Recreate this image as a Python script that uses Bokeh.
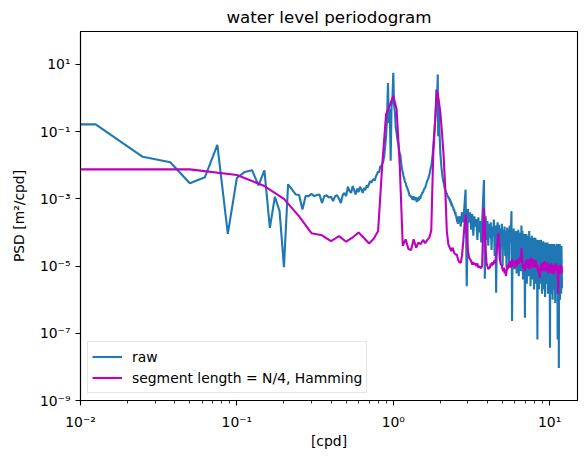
import numpy as np
from bokeh.plotting import figure
from bokeh.models import Range1d, FixedTicker, CustomJSTickFormatter
from bokeh.embed import file_html
from bokeh.resources import INLINE

# ---------------- data ----------------
# raw periodogram, fine grid 0.0125 cpd (0.0125 .. 2.6)
raw_df_lo = 0.0125
raw_psd_lo = [
    0.164, 0.0178, 0.0123, 0.0029, 0.0044, 0.040, 9.1e-5, 0.0042,
    0.0063, 0.0071, 0.0025, 0.0070, 1.37e-4, 0.00115, 4.3e-4, 9.3e-6,
    0.0027, 0.0019, 0.00135, 0.0013, 4.8e-4, 0.0012, 0.0012, 0.0014,
    0.0012, 0.0013, 0.00135, 7.5e-4, 0.0012, 0.00127, 0.0011, 0.00115,
    8.6e-4, 0.0012, 0.00127, 0.0010, 7.5e-4, 0.0013, 0.0015, 0.0012,
    0.0023, 0.0017, 0.0015, 0.0024, 0.0018, 0.00135, 0.0020, 0.0016,
    0.0023, 0.0019, 0.0015, 0.0021, 0.0018, 0.0025, 0.0022, 0.0028,
    0.0034, 0.0030, 0.0036, 0.0039, 0.0035, 0.0047, 0.0054, 0.0066,
    0.0060, 0.0091, 0.0093, 0.0110, 0.0126, 0.0187, 0.035, 0.073,
    0.25, 2.8, 0.18, 0.47, 0.0137, 0.57, 0.9, 5.6,
    0.6, 0.37, 0.13, 0.09, 0.06, 0.046, 0.03, 0.022,
    0.019, 0.011, 0.0076, 0.0062, 0.0048, 0.0040, 0.0032, 0.0030,
    0.0024, 0.0022, 0.0019, 0.0017, 0.0014, 0.0012, 0.0013, 0.0011,
    0.0012, 0.00095, 0.0010, 0.0012, 0.0009, 0.0011, 0.0010, 0.0011,
    0.0008, 0.0010, 0.00086, 0.0011, 0.0009, 0.0012, 0.0010, 0.0012,
    0.0013, 0.0014, 0.0016, 0.0015, 0.0018, 0.0019, 0.0021, 0.0021,
    0.0025, 0.0027, 0.0031, 0.0034, 0.0037, 0.0039, 0.0046, 0.0052,
    0.0060, 0.0072, 0.0085, 0.0093, 0.012, 0.016, 0.022, 0.034,
    0.05, 0.08, 0.12, 0.18, 0.3, 0.6, 1.8, 0.9,
    1.5, 5.0, 0.073, 0.47, 0.25, 0.1, 0.05, 0.023,
    0.015, 0.011, 0.0076, 0.0065, 0.0046, 0.0040, 0.0033, 0.0030,
    0.0026, 0.0022, 0.0020, 0.0019, 0.0017, 0.0016, 0.0014, 0.0015,
    0.0013, 0.0012, 0.0012, 0.0011, 0.0010, 0.0011, 0.0009, 0.0010,
    0.0008, 0.0009, 0.0007, 0.0008, 0.0006, 0.0007, 0.0006, 0.00055,
    0.0006, 0.0005, 0.00045, 0.0005, 0.0004, 0.00042, 0.00035, 0.0004,
    0.0003, 0.00032, 0.00025, 0.0003, 0.0002, 0.00028, 0.00018, 0.00025,
]

# raw periodogram, high-frequency part sampled every 0.05 cpd (2.65 .. 12.0)
raw_f_hi_start = 2.65
raw_df_hi = 0.05
raw_psd_hi = [
    3e-4, 1.5e-4, 4e-4, 2e-4, 6e-4, 1.9e-3, 2.5e-6, 5e-4, 2e-4, 4e-4,
    1.2e-4, 3.5e-4, 8e-5, 3e-4, 1.5e-4, 2.5e-4, 6e-5, 2.8e-4, 1e-4, 2.2e-4,
    5e-5, 2e-4, 8e-4, 3.6e-3, 4.2e-6, 3e-4, 6e-5, 2.2e-4, 4e-5, 1.8e-4,
    7e-5, 2e-4, 3e-5, 1.5e-4, 8e-5, 2.4e-4, 2e-5, 1.6e-4, 1.6e-6, 1.2e-4,
    2e-4, 5e-5, 1.7e-4, 1.5e-5, 1.3e-4, 4e-5, 1.8e-4, 1e-5, 1.2e-4, 6e-5,
    1.5e-4, 2e-5, 1.1e-4, 9e-6, 1.4e-4, 4e-5, 1.2e-4, 1.2e-5, 1.6e-4, 5e-5,
    1e-4, 4.3e-4, 2.3e-7, 1.2e-4, 3e-5, 1.3e-4, 8e-6, 1e-4, 3e-5, 1.1e-4,
    6e-6, 9e-5, 4e-5, 1.2e-4, 5e-6, 8e-5, 2.5e-5, 1e-4, 7e-6, 1.6e-4,
    6e-5, 1.1e-4, 4e-6, 8e-5, 2e-5, 9e-5, 2.9e-7, 7e-5, 3e-5, 9e-5,
    3e-6, 7e-5, 2e-5, 8e-5, 5e-6, 1.1e-4, 1.5e-5, 6e-5, 2.5e-6, 7e-5,
    3e-5, 8e-5, 4e-6, 6e-5, 1.2e-5, 7e-5, 2e-6, 6.5e-5, 2.5e-5, 7e-5,
    3e-6, 6e-5, 1e-5, 5e-5, 6.5e-8, 6e-5, 2e-5, 5.5e-5, 2e-6, 6e-5,
    1.5e-5, 5e-5, 3e-6, 6e-5, 1e-5, 4.5e-5, 1.5e-6, 5e-5, 2e-5, 5.5e-5,
    2e-6, 4.5e-5, 8e-6, 5e-5, 1.2e-6, 4e-5, 1.5e-5, 5e-5, 3e-6, 4.5e-5,
    1e-5, 5e-5, 1.5e-6, 4e-5, 6e-6, 4.5e-5, 2e-6, 4e-5, 3.7e-8, 4e-5,
    8e-6, 4.5e-5, 1.5e-6, 3.5e-5, 1.2e-5, 4.5e-5, 1e-6, 4e-5, 5e-6, 3.5e-5,
    2e-6, 4.5e-5, 9e-6, 4e-5, 8e-7, 3.5e-5, 1.5e-5, 4e-5, 1.5e-6, 4.5e-5,
    5e-6, 4e-5, 6.5e-8, 4e-5, 1e-6, 4.5e-5, 9.3e-9, 4e-5, 3e-6, 4.5e-5,
    1e-6, 4e-5, 6e-6, 3.5e-5, 1.5e-6, 4e-5, 8e-6, 2.2e-6,
]

# Welch estimate (segment length N/4, Hamming), grid 0.05 cpd (0.05 .. 12.0)
welch_df = 0.05
welch_psd = [
    7.5e-3, 5.1e-3, 2.4e-3, 1.0e-3, 3e-4, 9.5e-5, 8.2e-5, 5.5e-5, 7.8e-5, 5.3e-5,
    7.1e-5, 1.0e-4, 6.8e-5, 4.7e-5, 6.5e-5, 1.1e-4, 0.01, 0.33, 0.6, 1.15,
    0.46, 0.01, 4e-5, 6.2e-5, 3.2e-5, 3e-5, 6.3e-5, 3.5e-5, 5e-5, 4.5e-5,
    6e-5, 4.8e-5, 6e-5, 7e-5, 1.15e-4, 0.0187, 0.2, 1.7, 0.9, 0.37,
    0.09, 0.019, 2e-3, 1.1e-4, 4.4e-5, 3.5e-5, 2.8e-5, 3.5e-5, 2.5e-5, 2.2e-5,
    2.2e-5, 1.5e-5, 1.3e-5, 1.25e-5, 2e-5, 5e-5, 1.5e-4, 3.4e-4, 1.2e-4, 3e-5,
    1.8e-5, 1.6e-5, 1.4e-5, 1.1e-5, 1.3e-5, 1.1e-5, 1.2e-5, 1e-5, 1.2e-5, 9e-6,
    1e-5, 9e-6, 8.8e-6, 1e-5, 1e-4, 5.4e-4, 1.5e-4, 3e-5, 1.2e-5, 1e-5,
    8e-6, 9e-6, 8.8e-6, 1.2e-5, 1e-5, 1.3e-5, 1.1e-5, 1.3e-5, 1.5e-5, 1.2e-5,
    2e-5, 3e-5, 6e-5, 9.7e-5, 5e-5, 1.8e-5, 1.2e-5, 1.1e-5, 1e-5, 8e-6,
    7e-6, 9e-6, 6e-6, 8e-6, 5e-6, 7e-6, 1e-5, 8e-6, 1.2e-5, 9e-6,
    1.1e-5, 1.4e-5, 9e-6, 1.2e-5, 1.6e-5, 1e-5, 1.4e-5, 1.1e-5, 1.3e-5, 9e-6,
    1.2e-5, 1.5e-5, 1e-5, 1.3e-5, 1.1e-5, 1.6e-5, 1.2e-5, 1.4e-5, 1.8e-5, 1.3e-5,
    2e-5, 3.5e-5, 2.2e-5, 1.2e-5, 9e-6, 1.1e-5, 8e-6, 1e-5, 7e-6, 1.2e-5,
    1.5e-5, 1e-5, 1.3e-5, 9e-6, 1.6e-5, 1.1e-5, 1.4e-5, 8e-6, 1.2e-5, 1.5e-5,
    1e-5, 1.8e-5, 1.2e-5, 9e-6, 1.4e-5, 1.1e-5, 1.6e-5, 1e-5, 1.3e-5, 9e-6,
    1.2e-5, 1.1e-5, 1.5e-5, 1e-5, 1.2e-5, 8e-6, 1.1e-5, 7e-6, 9e-6, 6e-6,
    8e-6, 5e-6, 4.5e-6, 7e-6, 1e-5, 8e-6, 1.2e-5, 9e-6, 1.1e-5, 7e-6,
    1e-5, 1.3e-5, 8e-6, 1.1e-5, 9e-6, 1.4e-5, 7e-6, 1e-5, 1.2e-5, 8e-6,
    1.1e-5, 7e-6, 9e-6, 1.3e-5, 8e-6, 1e-5, 6e-6, 9e-6, 1.1e-5, 7e-6,
    8e-6, 1e-5, 7e-6, 1.2e-5, 9e-6, 6e-6, 1e-5, 8e-6, 1.1e-5, 7e-6,
    9e-6, 6e-6, 5.6e-6, 8e-6, 1e-5, 7e-6, 9e-6, 1.2e-5, 8e-6, 1e-5,
    7e-6, 9e-6, 1.1e-5, 6e-6, 8e-6, 4e-6, 1.5e-6, 5e-6, 9e-6, 7e-6,
    1e-5, 8e-6, 6e-6, 1.1e-5, 7e-6, 9e-6, 8e-6, 1e-5, 6e-6, 8e-6,
]

x_major_ticks = [0.01, 0.1, 1, 10]
y_major_ticks = [1e-9, 1e-7, 1e-5, 1e-3, 1e-1, 1e1]
x_limits = (0.01, 15.07)
y_limits = (1e-9, 95.0)

# ---------------- build series ----------------
raw_f = np.concatenate([
    raw_df_lo * np.arange(1, len(raw_psd_lo) + 1),
    raw_f_hi_start + raw_df_hi * np.arange(len(raw_psd_hi)),
])
raw_p = np.array(raw_psd_lo + raw_psd_hi)
welch_f = welch_df * np.arange(1, len(welch_psd) + 1)
welch_p = np.array(welch_psd)

# the 0 cpd bin is clipped on a log axis: the line runs flat to the left edge
clip_f = 1e-3
raw_x = np.concatenate([[clip_f], raw_f])
raw_y = np.concatenate([[raw_p[0]], raw_p])
welch_x = np.concatenate([[clip_f], welch_f])
welch_y = np.concatenate([[welch_p[0]], welch_p])

# ---------------- figure ----------------
FONT = "DejaVu Sans"
p = figure(
    x_axis_type="log", y_axis_type="log",
    x_range=Range1d(*x_limits), y_range=Range1d(*y_limits),
    frame_width=497, frame_height=369,
    min_border_left=80, min_border_right=9, min_border_top=30, min_border_bottom=58,
    toolbar_location=None, output_backend="svg",
    title="water level periodogram",
)
p.background_fill_color = "white"
p.border_fill_color = "white"
p.outline_line_color = "black"
p.outline_line_width = 1.1
p.xgrid.visible = False
p.ygrid.visible = False

p.title.text_font = FONT
p.title.text_font_size = "16.7px"
p.title.text_font_style = "normal"
p.title.text_color = "black"
p.title.align = "center"
p.title.standoff = 9

p.line(raw_x, raw_y, line_color="#1f77b4", line_width=2.1, legend_label="raw")
p.line(welch_x, welch_y, line_color="#bf00bf", line_width=2.1,
       legend_label="segment length = N/4, Hamming")

sup_js = """
const s = {"-":"\u207b","0":"\u2070","1":"\u00b9","2":"\u00b2","3":"\u00b3","4":"\u2074",
           "5":"\u2075","6":"\u2076","7":"\u2077","8":"\u2078","9":"\u2079"};
const e = Math.round(Math.log10(tick));
return "10" + String(e).split("").map(c => s[c]).join("");
"""
x_minor = [m * 10.0 ** e for e in (-2, -1, 0, 1) for m in range(2, 10)]
p.xaxis.ticker = FixedTicker(ticks=x_major_ticks, minor_ticks=x_minor)
p.yaxis.ticker = FixedTicker(ticks=y_major_ticks, minor_ticks=[])
for ax in (p.xaxis, p.yaxis):
    ax.formatter = CustomJSTickFormatter(code=sup_js)
    ax.axis_line_color = "black"
    ax.axis_line_width = 1.1
    ax.major_tick_line_color = "black"
    ax.minor_tick_line_color = "black"
    ax.major_tick_line_width = 1.1
    ax.minor_tick_line_width = 0.8
    ax.major_tick_in = 0
    ax.major_tick_out = 5
    ax.minor_tick_in = 0
    ax.minor_tick_out = 3
    ax.major_label_text_font = FONT
    ax.major_label_text_font_size = "13.9px"
    ax.major_label_text_color = "black"
    ax.axis_label_text_font = FONT
    ax.axis_label_text_font_size = "13.9px"
    ax.axis_label_text_font_style = "normal"
    ax.axis_label_text_color = "black"
    ax.major_label_standoff = 5

p.xaxis.major_label_standoff = 8
p.xaxis.axis_label = "[cpd]"
p.yaxis.axis_label = "PSD [m\u00b2/cpd]"
p.xaxis.axis_label_standoff = 0
p.yaxis.axis_label_standoff = 10

lg = p.legend[0]
lg.location = "bottom_left"
lg.margin = 7
lg.padding = 4
lg.spacing = 0
lg.label_standoff = 10
lg.glyph_width = 30
lg.glyph_height = 21
lg.label_height = 21
lg.label_text_font = FONT
lg.label_text_font_size = "13.9px"
lg.label_text_color = "black"
lg.border_line_color = "#cccccc"
lg.border_line_width = 1
lg.background_fill_alpha = 0.8

open("out.html", "w").write(file_html(p, INLINE))
